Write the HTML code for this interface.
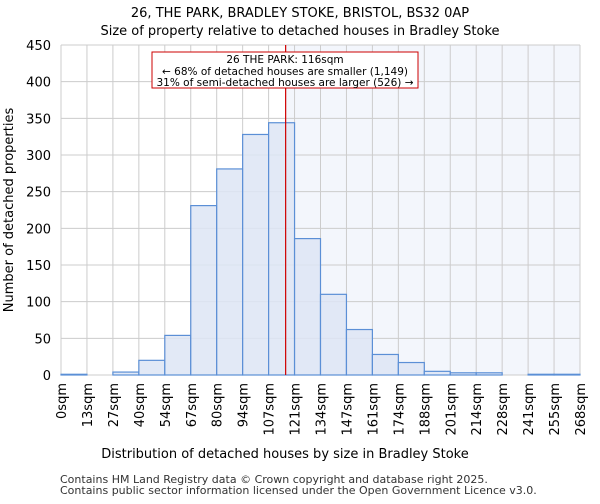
<!DOCTYPE html>
<html><head><meta charset="utf-8"><style>
body{margin:0;background:#fff;font-family:"DejaVu Sans","Liberation Sans",sans-serif;}
</style></head><body>
<svg id="c" width="600" height="500" xmlns="http://www.w3.org/2000/svg" font-family="DejaVu Sans, Liberation Sans, sans-serif">
<text x="300" y="17" text-anchor="middle" font-size="13">26, THE PARK, BRADLEY STOKE, BRISTOL, BS32 0AP</text>
<text x="300" y="35" text-anchor="middle" font-size="13">Size of property relative to detached houses in Bradley Stoke</text>
<g id="g"></g>
<text x="285" y="458" text-anchor="middle" font-size="13">Distribution of detached houses by size in Bradley Stoke</text>
<text transform="translate(13,210) rotate(-90)" text-anchor="middle" font-size="13">Number of detached properties</text>
<text x="60" y="483" font-size="11" fill="#333">Contains HM Land Registry data © Crown copyright and database right 2025.</text>
<text x="60" y="494" font-size="11" fill="#333">Contains public sector information licensed under the Open Government Licence v3.0.</text>
</svg>
<script>
const tickLabels=["0sqm","13sqm","27sqm","40sqm","54sqm","67sqm","80sqm","94sqm","107sqm","121sqm","134sqm","147sqm","161sqm","174sqm","188sqm","201sqm","214sqm","228sqm","241sqm","255sqm","268sqm"];
const counts=[1,0,4,20,54,231,281,328,344,186,110,62,28,17,5,3,3,0,1,1];
const yTicks=[0,50,100,150,200,250,300,350,400,450];
const propertySize=116;
const xMin=0,xMax=268;
const X0=61,X1=580,Y0=375,Y1=45;
const xs=v=>X0+(v-xMin)/(xMax-xMin)*(X1-X0);
const ys=v=>Y0-(v/450)*(Y0-Y1);
const bw=(X1-X0)/counts.length;
const NS="http://www.w3.org/2000/svg";
const g=document.getElementById('g');
function mk(t,a){const e=document.createElementNS(NS,t);for(const k in a)e.setAttribute(k,a[k]);g.appendChild(e);return e;}
const px=xs(propertySize);
const sh=mk('rect',{x:px,y:Y1,width:X1-px,height:Y0-Y1,fill:'#eef2fb',opacity:0.7});


yTicks.forEach(t=>{
 const l=mk('line',{x1:X0,x2:X1,y1:ys(t),y2:ys(t),stroke:'#ccc'});
 
 
 const tx=mk('text',{x:X0-10,y:ys(t)+5,'text-anchor':'end','font-size':13});
 tx.textContent=t;
 
 
});
tickLabels.forEach((s,i)=>{
 const x=X0+i*bw;
 const l=mk('line',{x1:x,x2:x,y1:Y1,y2:Y0,stroke:'#ccc'});
 
 
 const tx=mk('text',{transform:`translate(${x+5},${Y0+8}) rotate(-90)`,'text-anchor':'end','font-size':13});
 tx.textContent=s;
 
 
});
counts.forEach((c,i)=>{
 const r=mk('rect',{x:X0+i*bw,y:ys(c),width:bw,height:Y0-ys(c),fill:'#dde5f4',stroke:'#5b8fd6','stroke-width':1.2,'fill-opacity':0.85});
 
 
});
const ln=mk('line',{x1:px,x2:px,y1:Y1,y2:Y0,stroke:'#d00000','stroke-width':1.2});


const box=mk('rect',{x:152,y:52,width:266,height:36,fill:'#fff',stroke:'#cc0000'});


[["26 THE PARK: 116sqm",63],["← 68% of detached houses are smaller (1,149)",75],["31% of semi-detached houses are larger (526) →",86]].forEach(([t,y])=>{
 const tx=mk('text',{x:285,y:y,'text-anchor':'middle','font-size':10.5});
 tx.textContent=t;
 
 
});
</script>
</body></html>
